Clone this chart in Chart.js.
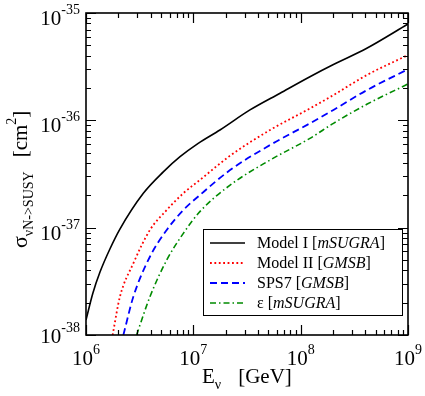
<!DOCTYPE html>
<html>
<head>
<meta charset="utf-8">
<script src="https://cdn.jsdelivr.net/npm/chart.js@4.4.1/dist/chart.umd.min.js"></script>
<style>
  body { margin: 0; background: #fff; }
  #wrap { width: 425px; height: 396px; }
</style>
</head>
<body>
<div id="wrap"><canvas id="chart" width="425" height="396"></canvas></div>
<script>
// neutrino energy (GeV) and cross section (cm^2)
const modelIEnergy = [1e6, 1.16e6, 1.35e6, 1.67e6, 2.07e6, 3.42e6, 5.25e6, 7.52e6, 1.11e7, 1.77e7, 3.37e7, 6.43e7, 1.22e8, 2.02e8, 4.13e8, 1e9];
const modelISigma  = [1.38e-38, 2.46e-38, 3.86e-38, 6.33e-38, 9.7e-38, 2.09e-37, 3.31e-37, 4.58e-37, 6.1e-37, 8.13e-37, 1.25e-36, 1.79e-36, 2.55e-36, 3.31e-36, 4.69e-36, 7.89e-36];

const modelIIEnergy = [1.77e6, 2.07e6, 2.76e6, 3.94e6, 5.65e6, 8.07e6, 1.15e7, 2.2e7, 5.19e7, 1.22e8, 2.02e8, 4.13e8, 1e9];
const modelIISigma  = [1e-38, 2.27e-38, 4.65e-38, 9.51e-38, 1.46e-37, 2.09e-37, 2.78e-37, 4.68e-37, 8.13e-37, 1.29e-36, 1.72e-36, 2.64e-36, 4.06e-36];

const sps7Energy = [2.23e6, 2.76e6, 3.94e6, 5.65e6, 8.07e6, 1.15e7, 2.2e7, 5.19e7, 1.22e8, 2.02e8, 4.13e8, 1e9];
const sps7Sigma  = [1e-38, 2.27e-38, 5.36e-38, 9.51e-38, 1.46e-37, 2.01e-37, 3.44e-37, 5.89e-37, 9.38e-37, 1.25e-36, 1.91e-36, 2.99e-36];

const epsEnergy = [2.96e6, 3.94e6, 5.65e6, 8.07e6, 1.15e7, 2.2e7, 5.19e7, 1.22e8, 2.02e8, 4.13e8, 1e9];
const epsSigma  = [1e-38, 2.27e-38, 4.99e-38, 8.85e-38, 1.41e-37, 2.49e-37, 4.27e-37, 6.79e-37, 9.38e-37, 1.41e-36, 2.18e-36];

const xDecades = [6, 7, 8, 9];
const yDecades = [-38, -37, -36, -35];

// legend entries: [plain, italic, plain]
const legendLabels = [
  ["Model I [", "mSUGRA", "]"],
  ["Model II [", "GMSB", "]"],
  ["SPS7 [", "GMSB", "]"],
  ["\u03b5 [", "mSUGRA", "]"]
];

const SERIF = '"Liberation Serif", "DejaVu Serif", serif';

function toPoints(xs, ys) {
  return xs.map((x, i) => ({ x: x, y: ys[i] }));
}

const datasets = [
  { data: toPoints(modelIEnergy, modelISigma), borderColor: "#000000", borderWidth: 1.6, borderDash: [] },
  { data: toPoints(modelIIEnergy, modelIISigma), borderColor: "#ff0000", borderWidth: 1.8, borderDash: [1.8, 2.6] },
  { data: toPoints(sps7Energy, sps7Sigma), borderColor: "#0000ff", borderWidth: 1.8, borderDash: [7, 4] },
  { data: toPoints(epsEnergy, epsSigma), borderColor: "#008b00", borderWidth: 1.6, borderDash: [6, 3, 1.5, 3] }
];
datasets.forEach(d => {
  d.pointRadius = 0;
  d.fill = false;
  d.cubicInterpolationMode = "monotone";
});

// draw a list of text runs left to right
function runsWidth(ctx, runs) {
  let w = 0;
  runs.forEach(r => { ctx.font = r.font; w += ctx.measureText(r.t).width + (r.gap || 0); });
  return w;
}
function drawRuns(ctx, runs, x, y) {
  runs.forEach(r => {
    x += r.gap || 0;
    ctx.font = r.font;
    ctx.fillText(r.t, x, y + (r.dy || 0));
    x += ctx.measureText(r.t).width;
  });
}
function powRuns(exp) {
  return [
    { t: "10", font: "21px " + SERIF },
    { t: String(exp), font: "14px " + SERIF, dy: -11 }
  ];
}

const framePlugin = {
  id: "frame",
  afterDraw(chart) {
    const ctx = chart.ctx;
    const a = chart.chartArea;
    const xs = chart.scales.x, ys = chart.scales.y;
    ctx.save();
    ctx.strokeStyle = "#000";
    ctx.fillStyle = "#000";
    ctx.textBaseline = "alphabetic";
    ctx.textAlign = "left";

    // ticks
    ctx.lineWidth = 1.2;
    ctx.beginPath();
    xDecades.forEach((d, i) => {
      const px = Math.round(xs.getPixelForValue(Math.pow(10, d))) + 0.5;
      ctx.moveTo(px, a.bottom); ctx.lineTo(px, a.bottom - 10);
      ctx.moveTo(px, a.top); ctx.lineTo(px, a.top + 10);
      if (i < xDecades.length - 1) {
        for (let m = 2; m <= 9; m++) {
          const q = Math.round(xs.getPixelForValue(m * Math.pow(10, d))) + 0.5;
          ctx.moveTo(q, a.bottom); ctx.lineTo(q, a.bottom - 5);
          ctx.moveTo(q, a.top); ctx.lineTo(q, a.top + 5);
        }
      }
    });
    yDecades.forEach((d, i) => {
      const py = Math.round(ys.getPixelForValue(Math.pow(10, d))) + 0.5;
      ctx.moveTo(a.left, py); ctx.lineTo(a.left + 10, py);
      ctx.moveTo(a.right, py); ctx.lineTo(a.right - 10, py);
      if (i < yDecades.length - 1) {
        for (let m = 2; m <= 9; m++) {
          const q = Math.round(ys.getPixelForValue(m * Math.pow(10, d))) + 0.5;
          ctx.moveTo(a.left, q); ctx.lineTo(a.left + 5, q);
          ctx.moveTo(a.right, q); ctx.lineTo(a.right - 5, q);
        }
      }
    });
    ctx.stroke();

    // frame
    ctx.lineWidth = 1.6;
    ctx.strokeRect(a.left, a.top, a.right - a.left, a.bottom - a.top);

    // x tick labels
    xDecades.forEach(d => {
      const px = xs.getPixelForValue(Math.pow(10, d));
      const runs = powRuns(d);
      const w = runsWidth(ctx, runs);
      drawRuns(ctx, runs, px - w / 2, a.bottom + 30);
    });

    // y tick labels
    yDecades.forEach((d, i) => {
      const py = ys.getPixelForValue(Math.pow(10, d));
      const runs = powRuns(d);
      const w = runsWidth(ctx, runs);
      const off = i === 0 ? 8 : 12;
      drawRuns(ctx, runs, a.left - 6 - w, py + off);
    });

    // x title
    drawRuns(ctx, [
      { t: "E", font: "21px " + SERIF },
      { t: "\u03bd", font: "14px " + SERIF, dy: 6 },
      { t: "[GeV]", font: "21px " + SERIF, gap: 17 }
    ], 202, 383);

    // y title
    ctx.save();
    ctx.translate(27, 248);
    ctx.rotate(-Math.PI / 2);
    drawRuns(ctx, [
      { t: "\u03c3", font: "22px " + SERIF },
      { t: "\u03bdN->SUSY", font: "14px " + SERIF, dy: 6 },
      { t: "[cm", font: "21px " + SERIF, gap: 14 },
      { t: "2", font: "14px " + SERIF, dy: -11 },
      { t: "]", font: "21px " + SERIF }
    ], 0, 0);
    ctx.restore();

    // legend
    const lx = 203.5, ly = 229.5, lw = 199, lh = 86;
    ctx.fillStyle = "#fff";
    ctx.fillRect(lx, ly, lw, lh);
    ctx.lineWidth = 1;
    ctx.strokeStyle = "#000";
    ctx.strokeRect(lx, ly, lw, lh);
    legendLabels.forEach((lab, i) => {
      const ds = chart.data.datasets[i];
      const cy = 243 + i * 20;
      ctx.save();
      ctx.strokeStyle = ds.borderColor;
      ctx.lineWidth = ds.borderWidth;
      ctx.setLineDash(ds.borderDash);
      ctx.beginPath();
      ctx.moveTo(210, cy);
      ctx.lineTo(245, cy);
      ctx.stroke();
      ctx.restore();
      ctx.fillStyle = "#000";
      drawRuns(ctx, [
        { t: lab[0], font: "16px " + SERIF },
        { t: lab[1], font: "italic 16px " + SERIF },
        { t: lab[2], font: "16px " + SERIF }
      ], 257, cy + 5);
    });
    ctx.restore();
  }
};

new Chart(document.getElementById("chart"), {
  type: "line",
  data: { datasets: datasets },
  options: {
    responsive: false,
    animation: false,
    layout: { padding: { left: 86, right: 17, top: 13, bottom: 61 } },
    plugins: { legend: { display: false }, tooltip: { enabled: false } },
    scales: {
      x: { type: "logarithmic", min: 1e6, max: 1e9, display: false },
      y: { type: "logarithmic", min: 1e-38, max: 1e-35, display: false }
    }
  },
  plugins: [framePlugin]
});
</script>
</body>
</html>
